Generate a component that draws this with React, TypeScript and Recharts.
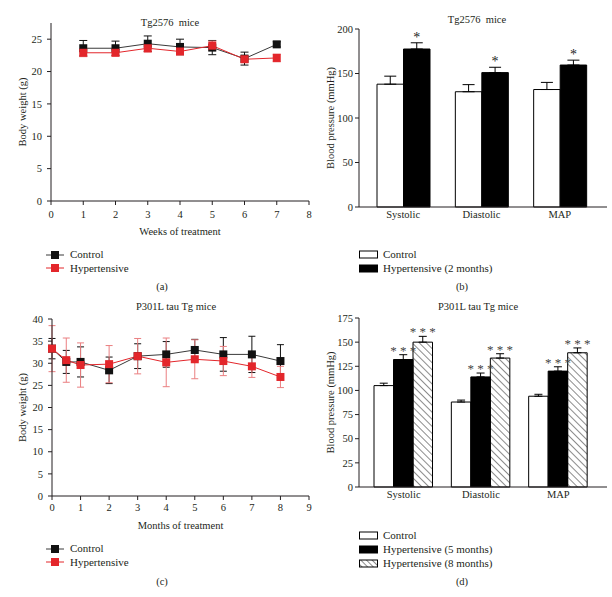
import { Bar, BarChart, ErrorBar, LabelList, Line, LineChart, XAxis, YAxis } from 'recharts'

const FONT = '"Liberation Serif", "Times New Roman", serif'
const INK = '#231f20'
const RED = '#e3262b'
const RED_ERR = '#ea7f81'

// (a) Tg2576 mice, body weight
const tgWeeks = [1, 2, 3, 4, 5, 6, 7]
const tgWeekTicks = [0, 1, 2, 3, 4, 5, 6, 7, 8]
const tgWeightCtrl = [23.6, 23.6, 24.3, 23.8, 23.7, 22.0, 24.2]
const tgWeightCtrlErr = [1.2, 1.1, 1.2, 1.2, 1.1, 1.0, 0.4]
const tgWeightHyp = [22.9, 22.9, 23.6, 23.1, 24.0, 21.9, 22.1]
const tgWeightHypErr = [0.6, 0.5, 0.6, 0.5, 0.7, 0.5, 0.6]
const tgWeightTicks = [0, 5, 10, 15, 20, 25]

// (b) Tg2576 mice, blood pressure
const bpCategories = ['Systolic', 'Diastolic', 'MAP']
const tgBpCtrl = [138, 129.5, 132]
const tgBpCtrlErr = [9, 8, 8]
const tgBpHyp = [177.5, 151, 159.5]
const tgBpHypErr = [7, 6, 5.5]
const tgBpTicks = [0, 50, 100, 150, 200]

// (c) P301L tau Tg mice, body weight
const tauMonths = [0, 0.5, 1, 2, 3, 4, 5, 6, 7, 8]
const tauMonthTicks = [0, 1, 2, 3, 4, 5, 6, 7, 8, 9]
const tauWeightCtrl = [33.3, 30.3, 30.3, 28.4, 31.6, 32.0, 33.0, 32.0, 32.0, 30.5]
const tauWeightCtrlErr = [2.3, 2.6, 3.4, 3.0, 2.8, 2.9, 2.4, 3.8, 4.1, 3.7]
const tauWeightHyp = [33.3, 30.7, 29.6, 29.8, 31.6, 30.2, 30.9, 30.5, 29.3, 26.9]
const tauWeightHypErr = [5.2, 5.0, 5.0, 4.2, 4.0, 5.5, 4.4, 3.3, 2.5, 2.4]
const tauWeightTicks = [0, 5, 10, 15, 20, 25, 30, 35, 40]

// (d) P301L tau Tg mice, blood pressure
const tauBpCtrl = [105, 88, 94]
const tauBpCtrlErr = [2.5, 2, 2]
const tauBpHyp5 = [132, 114, 120]
const tauBpHyp5Err = [5, 4, 4.5]
const tauBpHyp8 = [150, 133.5, 139]
const tauBpHyp8Err = [6, 4.5, 5]
const tauBpTicks = [0, 25, 50, 75, 100, 125, 150, 175]

const tgWeightRows = tgWeeks.map((x, i) => ({
  x,
  control: tgWeightCtrl[i],
  controlErr: tgWeightCtrlErr[i],
  hyp: tgWeightHyp[i],
  hypErr: tgWeightHypErr[i],
}))

const tauWeightRows = tauMonths.map((x, i) => ({
  x,
  control: tauWeightCtrl[i],
  controlErr: tauWeightCtrlErr[i],
  hyp: tauWeightHyp[i],
  hypErr: tauWeightHypErr[i],
}))

const tgBpRows = bpCategories.map((name, i) => ({
  name,
  control: tgBpCtrl[i],
  controlErr: [0, tgBpCtrlErr[i]],
  hyp: tgBpHyp[i],
  hypErr: [0, tgBpHypErr[i]],
}))

const tauBpRows = bpCategories.map((name, i) => ({
  name,
  control: tauBpCtrl[i],
  controlErr: [0, tauBpCtrlErr[i]],
  hyp5: tauBpHyp5[i],
  hyp5Err: [0, tauBpHyp5Err[i]],
  hyp8: tauBpHyp8[i],
  hyp8Err: [0, tauBpHyp8Err[i]],
}))

const tickStyle = { fill: INK, fontSize: 10.5, fontFamily: FONT }

const squareDot = (color: string) => (props: any) => {
  const { cx, cy, index } = props
  if (cx == null || cy == null) return <g key={`d-${index}`} />
  return <rect key={`d-${index}`} x={cx - 4} y={cy - 4} width={8} height={8} fill={color} />
}

const yLabel = (text: string, x: number) => ({
  value: text,
  content: (props: any) => {
    const vb = props.viewBox || { y: 0, height: 0 }
    const cy = vb.y + vb.height / 2
    return (
      <text
        x={x}
        y={cy}
        transform={`rotate(-90 ${x} ${cy})`}
        textAnchor="middle"
        dominantBaseline="central"
        fontFamily={FONT}
        fontSize={10.5}
        fill={INK}
      >
        {text}
      </text>
    )
  },
})

const xLabel = (text: string, offset: number) => ({
  value: text,
  position: 'insideBottom' as const,
  offset,
  fontFamily: FONT,
  fontSize: 10.5,
  fill: INK,
})

// asterisks sit just above the error bar: error height is taken from the bar's own pixel height
const starLabel =
  (values: number[], errs: number[], text: string, size: number, color: string, gap: number) => (props: any) => {
    const vb = props.viewBox ?? props
    const { x, y, width, height } = vb
    const value = Number(props.value)
    const i = props.index ?? values.indexOf(value)
    const errPx = value ? (height * errs[i]) / value : 0
    return (
      <text x={x + width / 2} y={y - errPx - gap} textAnchor="middle" fontFamily={FONT} fontSize={size} fill={color}>
        {text}
      </text>
    )
  }

function Caption({ x, y, children, size = 10.5 }: { x: number; y: number; children: any; size?: number }) {
  return (
    <div
      style={{
        position: 'absolute',
        left: x,
        top: y,
        transform: 'translate(-50%, -50%)',
        whiteSpace: 'pre',
        fontSize: size,
        lineHeight: 1,
      }}
    >
      {children}
    </div>
  )
}

function LineKey({ left, top, items }: { left: number; top: number; items: { label: string; line: string; mark: string }[] }) {
  return (
    <div style={{ position: 'absolute', left, top }}>
      {items.map((it) => (
        <div key={it.label} style={{ display: 'flex', alignItems: 'center', height: 13.5 }}>
          <svg width={18} height={10}>
            <line x1={0} y1={5} x2={18} y2={5} stroke={it.line} strokeWidth={1} />
            <rect x={5} y={1} width={8} height={8} fill={it.mark} />
          </svg>
          <span style={{ marginLeft: 6, fontSize: 11, lineHeight: 1 }}>{it.label}</span>
        </div>
      ))}
    </div>
  )
}

function BarKey({ left, top, items }: { left: number; top: number; items: { label: string; fill: string }[] }) {
  return (
    <div style={{ position: 'absolute', left, top }}>
      {items.map((it) => (
        <div key={it.label} style={{ display: 'flex', alignItems: 'center', height: 14 }}>
          <svg width={19} height={9}>
            <defs>
              <pattern id="hatchKey" patternUnits="userSpaceOnUse" width={4} height={4} patternTransform="rotate(-45)">
                <line x1={0} y1={0} x2={0} y2={4} stroke="#000" strokeWidth={0.9} />
              </pattern>
            </defs>
            <rect x={0.5} y={1} width={18} height={7} fill={it.fill === 'hatch' ? 'url(#hatchKey)' : it.fill} stroke="#000" />
          </svg>
          <span style={{ marginLeft: 5, fontSize: 11, lineHeight: 1 }}>{it.label}</span>
        </div>
      ))}
    </div>
  )
}

export default function App() {
  return (
    <div
      style={{
        position: 'fixed',
        left: 0,
        top: 0,
        width: 612,
        height: 597,
        background: '#fff',
        fontFamily: FONT,
        color: INK,
      }}
    >
      {/* (a) */}
      <div style={{ position: 'absolute', left: 0, top: 0 }}>
        <LineChart width={320} height={245} data={tgWeightRows} margin={{ top: 23, right: 11, left: 0, bottom: 0 }}>
          <XAxis
            type="number"
            dataKey="x"
            domain={[0, 8]}
            ticks={tgWeekTicks}
            tickSize={4}
            tickMargin={6}
            stroke={INK}
            tick={tickStyle}
            height={44}
            label={xLabel('Weeks of treatment', 10)}
          />
          <YAxis
            domain={[0, 27.5]}
            ticks={tgWeightTicks}
            width={51}
            tickSize={4}
            tickMargin={5}
            stroke={INK}
            tick={tickStyle}
            label={yLabel('Body weight (g)', 22)}
          />
          <Line dataKey="control" stroke="#3a3a3a" strokeWidth={1} dot={squareDot('#111')} activeDot={false} isAnimationActive={false}>
            <ErrorBar dataKey="controlErr" direction="y" width={4} stroke="#111" strokeWidth={1} />
          </Line>
          <Line dataKey="hyp" stroke={RED} strokeWidth={1} dot={squareDot(RED)} activeDot={false} isAnimationActive={false}>
            <ErrorBar dataKey="hypErr" direction="y" width={4} stroke={RED_ERR} strokeWidth={1} />
          </Line>
        </LineChart>
      </div>
      <Caption x={170} y={23}>Tg2576  mice</Caption>
      <LineKey
        left={46}
        top={248}
        items={[
          { label: 'Control', line: '#3a3a3a', mark: '#111' },
          { label: 'Hypertensive', line: RED, mark: RED },
        ]}
      />
      <Caption x={162} y={287}>(a)</Caption>

      {/* (b) */}
      <div style={{ position: 'absolute', left: 300, top: 0 }}>
        <BarChart width={312} height={245} data={tgBpRows} barGap={0} margin={{ top: 29, right: 5, left: 0, bottom: 0 }}>
          <XAxis
            dataKey="name"
            padding={{ left: 5, right: 8 }}
            tickLine={false}
            tickSize={0}
            tickMargin={4}
            stroke={INK}
            tick={tickStyle}
            height={38}
          />
          <YAxis
            domain={[0, 200]}
            ticks={tgBpTicks}
            width={59}
            tickSize={4}
            tickMargin={2}
            stroke={INK}
            tick={tickStyle}
            label={yLabel('Blood pressure (mmHg)', 30)}
          />
          <Bar dataKey="control" fill="#fff" stroke="#000" strokeWidth={1} barSize={26.5} isAnimationActive={false}>
            <ErrorBar dataKey="controlErr" direction="y" width={6} stroke="#000" strokeWidth={1} />
          </Bar>
          <Bar dataKey="hyp" fill="#000" stroke="#000" strokeWidth={1} barSize={26.5} isAnimationActive={false}>
            <ErrorBar dataKey="hypErr" direction="y" width={6} stroke="#000" strokeWidth={1} />
            <LabelList dataKey="hyp" content={starLabel(tgBpHyp, tgBpHypErr, '*', 14, '#222', 1)} />
          </Bar>
        </BarChart>
      </div>
      <Caption x={477} y={20}>Tg2576  mice</Caption>
      <BarKey
        left={359}
        top={247}
        items={[
          { label: 'Control', fill: '#fff' },
          { label: 'Hypertensive (2 months)', fill: '#000' },
        ]}
      />
      <Caption x={462} y={287}>(b)</Caption>

      {/* (c) */}
      <div style={{ position: 'absolute', left: 0, top: 295 }}>
        <LineChart width={320} height={245} data={tauWeightRows} margin={{ top: 24, right: 11, left: 0, bottom: 0 }}>
          <XAxis
            type="number"
            dataKey="x"
            domain={[0, 9]}
            ticks={tauMonthTicks}
            tickSize={4}
            tickMargin={4}
            stroke={INK}
            tick={tickStyle}
            height={44}
            label={xLabel('Months of treatment', 11)}
          />
          <YAxis
            domain={[0, 40]}
            ticks={tauWeightTicks}
            width={52}
            tickSize={4}
            tickMargin={5}
            stroke={INK}
            tick={tickStyle}
            label={yLabel('Body weight (g)', 22)}
          />
          <Line dataKey="control" stroke="#3a3a3a" strokeWidth={1} dot={squareDot('#111')} activeDot={false} isAnimationActive={false}>
            <ErrorBar dataKey="controlErr" direction="y" width={3.5} stroke="#111" strokeWidth={1} />
          </Line>
          <Line dataKey="hyp" stroke={RED} strokeWidth={1} dot={squareDot(RED)} activeDot={false} isAnimationActive={false}>
            <ErrorBar dataKey="hypErr" direction="y" width={3.5} stroke={RED_ERR} strokeWidth={1} />
          </Line>
        </LineChart>
      </div>
      <Caption x={176} y={307}>P301L tau Tg mice</Caption>
      <LineKey
        left={46}
        top={542}
        items={[
          { label: 'Control', line: '#3a3a3a', mark: '#111' },
          { label: 'Hypertensive', line: RED, mark: RED },
        ]}
      />
      <Caption x={162} y={582}>(c)</Caption>

      {/* (d) */}
      <div style={{ position: 'absolute', left: 300, top: 295 }}>
        <BarChart width={312} height={245} data={tauBpRows} barGap={0} margin={{ top: 23, right: 5, left: 0, bottom: 0 }}>
          <defs>
            <pattern id="hatch8" patternUnits="userSpaceOnUse" width={5} height={5} patternTransform="rotate(-45)">
              <line x1={0} y1={0} x2={0} y2={5} stroke="#000" strokeWidth={0.9} />
            </pattern>
          </defs>
          <XAxis
            dataKey="name"
            padding={{ left: 6, right: 10 }}
            tickLine={false}
            tickSize={0}
            tickMargin={4}
            stroke={INK}
            tick={tickStyle}
            height={53}
          />
          <YAxis
            domain={[0, 175]}
            ticks={tauBpTicks}
            width={59}
            tickSize={4}
            tickMargin={2}
            stroke={INK}
            tick={tickStyle}
            label={yLabel('Blood pressure (mmHg)', 30)}
          />
          <Bar dataKey="control" fill="#fff" stroke="#000" strokeWidth={1} barSize={19.5} isAnimationActive={false}>
            <ErrorBar dataKey="controlErr" direction="y" width={4} stroke="#000" strokeWidth={1} />
          </Bar>
          <Bar dataKey="hyp5" fill="#000" stroke="#000" strokeWidth={1} barSize={19.5} isAnimationActive={false}>
            <ErrorBar dataKey="hyp5Err" direction="y" width={4} stroke="#000" strokeWidth={1} />
            <LabelList dataKey="hyp5" content={starLabel(tauBpHyp5, tauBpHyp5Err, '* * *', 13, '#444', 0)} />
          </Bar>
          <Bar dataKey="hyp8" fill="url(#hatch8)" stroke="#000" strokeWidth={1} barSize={19.5} isAnimationActive={false}>
            <ErrorBar dataKey="hyp8Err" direction="y" width={4} stroke="#000" strokeWidth={1} />
            <LabelList dataKey="hyp8" content={starLabel(tauBpHyp8, tauBpHyp8Err, '* * *', 13, '#444', 0)} />
          </Bar>
        </BarChart>
      </div>
      <Caption x={478} y={307}>P301L tau Tg mice</Caption>
      <BarKey
        left={359}
        top={528}
        items={[
          { label: 'Control', fill: '#fff' },
          { label: 'Hypertensive (5 months)', fill: '#000' },
          { label: 'Hypertensive (8 months)', fill: 'hatch' },
        ]}
      />
      <Caption x={462} y={582}>(d)</Caption>
    </div>
  )
}
